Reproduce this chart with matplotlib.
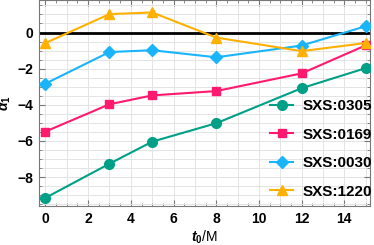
import matplotlib
matplotlib.use("Agg")
import matplotlib.pyplot as plt
from matplotlib.ticker import MultipleLocator
import numpy as np

plt.rcParams['font.family'] = ['Liberation Sans', 'DejaVu Sans']
plt.rcParams['font.weight'] = 'bold'
plt.rcParams['mathtext.fontset'] = 'custom'
plt.rcParams['mathtext.rm'] = 'Liberation Sans:bold'
plt.rcParams['mathtext.it'] = 'Liberation Sans:bold:italic'

# data
t0 = [0, 3, 5, 8, 12, 15]
sxs0305 = [-9.15, -7.26, -6.04, -5.02, -3.08, -1.97]
sxs0169 = [-5.48, -3.97, -3.48, -3.24, -2.26, -0.71]
sxs0030 = [-2.83, -1.08, -0.98, -1.37, -0.72, 0.35]
sxs1220 = [-0.58, 1.02, 1.11, -0.28, -1.03, -0.58]

series = [
    ("SXS:0305", sxs0305, "#00A087", "o", 7),
    ("SXS:0169", sxs0169, "#FF1A70", "s", 6),
    ("SXS:0030", sxs0030, "#1AB4FA", "D", 6),
    ("SXS:1220", sxs1220, "#FFB000", "^", 7.5),
]

fig = plt.figure(figsize=(3.74, 2.45), dpi=100)
ax = fig.add_axes([39/374, 39/245, 331/374, 206/245])

for label, vals, col, mk, ms in series:
    ax.plot(t0, vals, color=col, marker=mk, markersize=ms, lw=1.5, label=label, zorder=3)

ax.axhline(0, color="black", lw=2, zorder=2)

ax.set_xlim(-0.3, 15.2)
ax.set_ylim(-9.6, 1.8)
ax.xaxis.set_major_locator(MultipleLocator(2))
ax.xaxis.set_minor_locator(MultipleLocator(0.5))
ax.yaxis.set_major_locator(MultipleLocator(2))
ax.yaxis.set_minor_locator(MultipleLocator(0.5))

# light grid
for x in np.arange(0, 16, 1):
    ax.axvline(x, color="#e4e4e4", lw=0.7, zorder=0)
ax.grid(True, which="both", axis="y", color="#e4e4e4", lw=0.7, zorder=0)
ax.set_axisbelow(True)

ax.tick_params(which="both", direction="in", top=True, right=True, color="#777777")
ax.tick_params(which="major", length=4, labelsize=10, pad=4)
ax.tick_params(which="minor", length=2)
for s in ax.spines.values():
    s.set_color("#777777")

ax.set_xlabel("$t_0$/M", fontsize=10, labelpad=2)
ax.set_ylabel(r"$\alpha_1$", fontsize=10, labelpad=3)

ax.legend(loc="lower right", bbox_to_anchor=(1.005, 0.035), frameon=False,
          fontsize=11, labelspacing=0.95, handlelength=1.5, handletextpad=0.6,
          borderaxespad=0.0, borderpad=0.0)

fig.savefig("out.png", dpi=100)
